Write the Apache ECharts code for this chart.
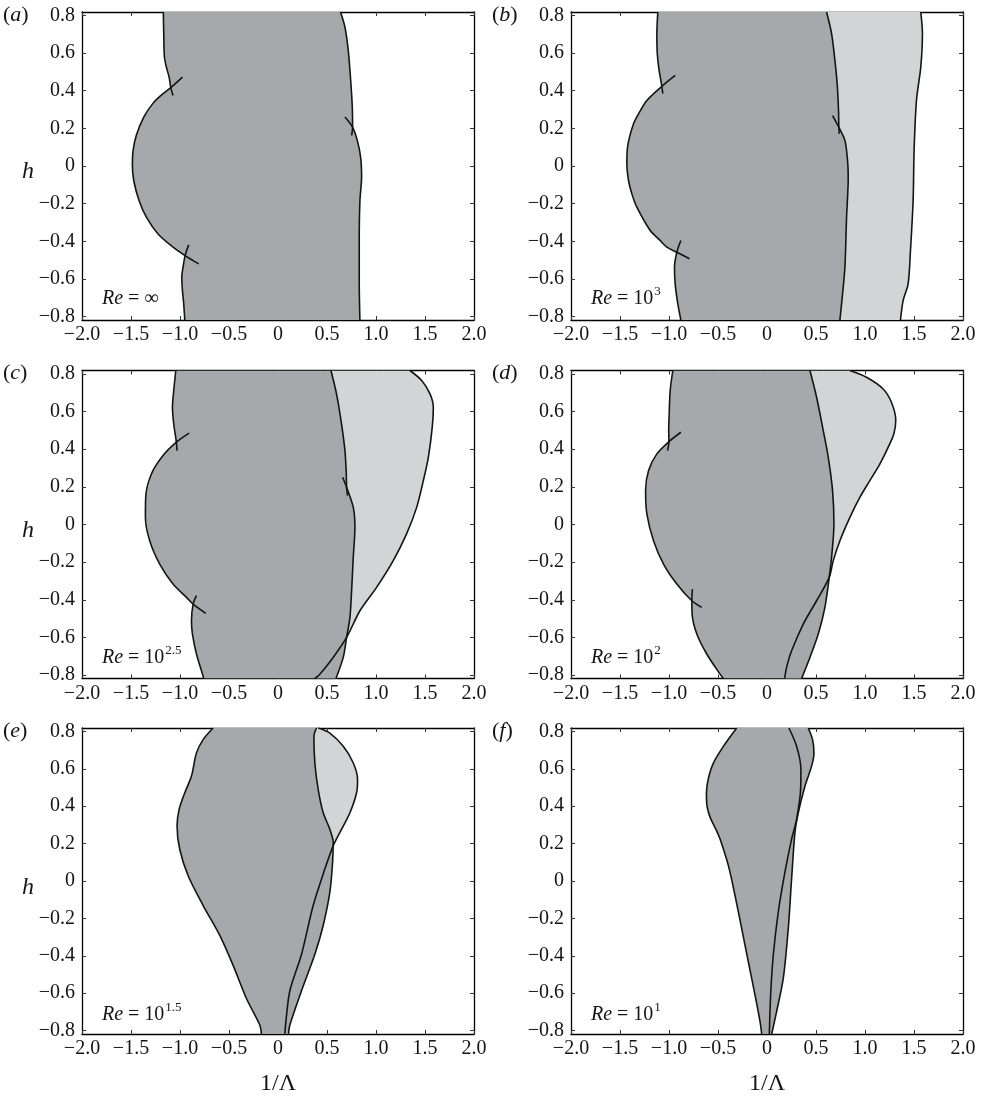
<!DOCTYPE html>
<html>
<head>
<meta charset="utf-8">
<script src="https://cdn.jsdelivr.net/npm/echarts@6/dist/echarts.min.js"></script>
<style>
  html, body { margin: 0; padding: 0; background: #fff; }
  #chart { width: 983px; height: 1097px; }
</style>
</head>
<body>
<div id="chart"></div>
<script>
// ---- axes ----
const xTicks = [-2, -1.5, -1, -0.5, 0, 0.5, 1, 1.5, 2];
const hTicks = [-0.8, -0.6, -0.4, -0.2, 0, 0.2, 0.4, 0.6, 0.8];
const hRange = [-0.818, 0.818];
const panelLetters = ['a', 'b', 'c', 'd', 'e', 'f'];
const reBase = ['\u221E', '10', '10', '10', '10', '10'];
const reExponent = ['', '3', '2.5', '2', '1.5', '1'];

// ---- (a) Re = infinity ----
const A1 = [-1.094, 0.416], A2 = [-0.948, -0.476], A3 = [0.761, 0.206];
const aUpperLeft = [[-1.170, 0.818], [-1.166, 0.700], [-1.159, 0.580], [-1.139, 0.525], [-1.111, 0.472], A1, [-1.071, 0.375]];
const aArc = [[-0.975, 0.472], A1, [-1.200, 0.372], [-1.280, 0.330], [-1.370, 0.260], [-1.445, 0.165], [-1.479, 0.082], [-1.486, 0.012],
  [-1.472, -0.077], [-1.418, -0.183], [-1.343, -0.272], [-1.224, -0.361], [-1.071, -0.431], A2, [-0.809, -0.520]];
const aLowerLeft = [[-0.911, -0.419], A2, [-0.969, -0.538], [-0.982, -0.591], [-0.975, -0.662], [-0.962, -0.733], [-0.951, -0.818]];
const aUpperRight = [[0.638, 0.818], [0.683, 0.738], [0.717, 0.614], [0.744, 0.437], [0.758, 0.313], A3, [0.751, 0.162]];
const aLowerRight = [[0.683, 0.260], A3, [0.809, 0.136], [0.843, 0.047], [0.853, -0.059], [0.836, -0.183], [0.829, -0.361], [0.829, -0.626], [0.836, -0.818]];

// ---- (b) Re = 10^3 ----
const B1 = [-1.073, 0.423], B2 = [-0.920, -0.458], B3 = [0.733, 0.206];
const bUpperLeft = [[-1.114, 0.818], [-1.124, 0.700], [-1.120, 0.600], [-1.104, 0.520], B1, [-1.063, 0.384]];
const bArc = [[-0.937, 0.481], B1, [-1.226, 0.348], [-1.301, 0.286], [-1.362, 0.224], [-1.423, 0.100], [-1.430, 0.012], [-1.413, -0.077],
  [-1.379, -0.148], [-1.328, -0.219], [-1.192, -0.343], [-1.107, -0.387], [-1.022, -0.431], B2, [-0.791, -0.493]];
const bLowerLeft = [[-0.879, -0.396], B2, [-0.944, -0.538], [-0.937, -0.626], [-0.910, -0.733], [-0.879, -0.818]];
const bUpperRight = [[0.608, 0.818], [0.659, 0.703], [0.693, 0.561], [0.716, 0.437], [0.730, 0.295], B3, [0.737, 0.171]];
const bLowerRight = [[0.669, 0.268], B3, [0.795, 0.136], [0.822, 0.029], [0.829, -0.059], [0.812, -0.272], [0.795, -0.538], [0.771, -0.679], [0.744, -0.818]];
const bOuter = [[1.569, 0.818], [1.586, 0.703], [1.569, 0.525], [1.525, 0.348], [1.501, 0.082], [1.491, -0.183], [1.464, -0.449], [1.440, -0.626], [1.389, -0.715], [1.362, -0.818]];

// ---- (c) Re = 10^2.5 ----
const C1 = [-1.037, 0.437], C2 = [-0.866, -0.423], C3 = [0.700, 0.198];
const cUpperLeft = [[-1.043, 0.818], [-1.064, 0.711], [-1.077, 0.623], [-1.064, 0.534], C1, [-1.030, 0.392]];
const cArc = [[-0.907, 0.485], C1, [-1.173, 0.366], [-1.292, 0.268], [-1.350, 0.144], [-1.353, 0.038], [-1.309, -0.086], [-1.207, -0.210],
  [-1.071, -0.316], [-0.934, -0.387], C2, [-0.737, -0.472]];
const cLowerLeft = [[-0.832, -0.378], C2, [-0.883, -0.511], [-0.873, -0.582], [-0.832, -0.688], [-0.781, -0.777], [-0.757, -0.818]];
const cUpperRight = [[0.540, 0.818], [0.597, 0.694], [0.648, 0.534], [0.683, 0.392], [0.697, 0.270], C3, [0.710, 0.153]];
const cLowerRight = [[0.659, 0.251], C3, [0.768, 0.091], [0.785, -0.015], [0.768, -0.174], [0.751, -0.352], [0.734, -0.493], [0.700, -0.600], [0.666, -0.706], [0.591, -0.818]];
const cOuter = [[1.346, 0.818], [1.466, 0.765], [1.551, 0.694], [1.585, 0.623], [1.574, 0.517], [1.534, 0.357], [1.483, 0.233], [1.415, 0.091],
  [1.312, -0.050], [1.176, -0.192], [1.006, -0.334], [0.836, -0.458], [0.700, -0.600], [0.563, -0.706], [0.427, -0.795], [0.376, -0.818]];

// ---- (d) Re = 10^2 ----
const D1 = [-1.001, 0.440], D2 = [-0.767, -0.405];
const dUpperLeft = [[-0.961, 0.818], [-0.988, 0.711], [-0.998, 0.587], [-1.003, 0.500], D1, [-1.015, 0.392]];
const dArc = [[-0.879, 0.490], D1, [-1.124, 0.375], [-1.209, 0.286], [-1.239, 0.180], [-1.226, 0.056], [-1.158, -0.086], [-1.056, -0.210], [-0.920, -0.316], D2, [-0.666, -0.440]];
const dLowerLeft = [[-0.761, -0.343], D2, [-0.764, -0.476], [-0.716, -0.582], [-0.615, -0.688], [-0.479, -0.795], [-0.445, -0.818]];
const dRight = [[0.438, 0.818], [0.506, 0.676], [0.574, 0.499], [0.625, 0.357], [0.669, 0.180], [0.683, 0.003], [0.659, -0.174], [0.635, -0.281],
  [0.591, -0.440], [0.523, -0.582], [0.438, -0.706], [0.353, -0.818]];
const dOuter = [[0.846, 0.818], [1.015, 0.782], [1.185, 0.720], [1.270, 0.649], [1.314, 0.552], [1.294, 0.481], [1.236, 0.410], [1.151, 0.321],
  [1.049, 0.233], [0.947, 0.144], [0.846, 0.038], [0.744, -0.086], [0.676, -0.192], [0.635, -0.281], [0.506, -0.405], [0.370, -0.529],
  [0.251, -0.671], [0.200, -0.759], [0.180, -0.818]];

// ---- (e) Re = 10^1.5 ----
const eLeft = [[-0.662, 0.818], [-0.764, 0.756], [-0.832, 0.685], [-0.883, 0.561], [-0.951, 0.472], [-1.009, 0.383], [-1.030, 0.294], [-1.003, 0.170],
  [-0.917, 0.028], [-0.764, -0.131], [-0.594, -0.291], [-0.458, -0.451], [-0.322, -0.628], [-0.186, -0.770], [-0.169, -0.818]];
const eRight = [[0.393, 0.818], [0.366, 0.773], [0.376, 0.631], [0.410, 0.490], [0.461, 0.365], [0.529, 0.277], [0.563, 0.206], [0.557, 0.099],
  [0.529, -0.060], [0.461, -0.238], [0.376, -0.392], [0.240, -0.587], [0.121, -0.770], [0.107, -0.818]];
const eOuter = [[0.410, 0.818], [0.529, 0.791], [0.666, 0.720], [0.768, 0.631], [0.812, 0.543], [0.802, 0.472], [0.734, 0.365], [0.649, 0.277],
  [0.563, 0.188], [0.478, 0.064], [0.359, -0.131], [0.240, -0.392], [0.121, -0.587], [0.078, -0.765], [0.070, -0.818]];

// ---- (f) Re = 10^1 ----
const fLeft = [[-0.309, 0.818], [-0.445, 0.720], [-0.547, 0.631], [-0.600, 0.545], [-0.618, 0.470], [-0.612, 0.400], [-0.580, 0.340], [-0.520, 0.275],
  [-0.479, 0.224], [-0.394, 0.082], [-0.326, -0.078], [-0.258, -0.255], [-0.190, -0.433], [-0.122, -0.610], [-0.071, -0.752], [-0.054, -0.818]];
const fRight = [[0.224, 0.818], [0.302, 0.720], [0.346, 0.596], [0.343, 0.490], [0.302, 0.330], [0.251, 0.224], [0.183, 0.047], [0.115, -0.166],
  [0.064, -0.397], [0.037, -0.610], [0.024, -0.818]];
const fOuter = [[0.421, 0.818], [0.465, 0.756], [0.479, 0.685], [0.455, 0.614], [0.387, 0.507], [0.319, 0.365], [0.285, 0.259], [0.251, 0.011],
  [0.217, -0.255], [0.166, -0.521], [0.098, -0.698], [0.048, -0.818]];

// ---- styling ----
const SERIF = '"Liberation Serif", "Times New Roman", Times, serif';
const DARK = '#a7a8ac';
const LIGHT = '#d3d4d6';
const INK = '#141414';

// piece of a curve between two of its own points (inclusive)
function piece(curve, from, to) {
  const i0 = from ? curve.indexOf(from) : 0;
  const i1 = to ? curve.indexOf(to) : curve.length - 1;
  return curve.slice(i0, i1 + 1);
}
// closed region: left chain top->bottom, right chain top->bottom
function region(leftChain, rightChain) {
  return leftChain.concat(rightChain.slice().reverse());
}

const aLeftChain = [...piece(aUpperLeft, null, A1), ...piece(aArc, A1, A2).slice(1), ...piece(aLowerLeft, A2, null).slice(1)];
const aRightChain = [...piece(aUpperRight, null, A3), ...piece(aLowerRight, A3, null).slice(1)];
const bLeftChain = [...piece(bUpperLeft, null, B1), ...piece(bArc, B1, B2).slice(1), ...piece(bLowerLeft, B2, null).slice(1)];
const bRightChain = [...piece(bUpperRight, null, B3), ...piece(bLowerRight, B3, null).slice(1)];
const cLeftChain = [...piece(cUpperLeft, null, C1), ...piece(cArc, C1, C2).slice(1), ...piece(cLowerLeft, C2, null).slice(1)];
const cRightChain = [...piece(cUpperRight, null, C3), ...piece(cLowerRight, C3, null).slice(1)];
const dLeftChain = [...piece(dUpperLeft, null, D1), ...piece(dArc, D1, D2).slice(1), ...piece(dLowerLeft, D2, null).slice(1)];

const panels = [
  { fills: [[region(aLeftChain, aRightChain), DARK]],
    curves: [aUpperLeft, aArc, aLowerLeft, aUpperRight, aLowerRight] },
  { fills: [[region(bRightChain, bOuter), LIGHT], [region(bLeftChain, bRightChain), DARK]],
    curves: [bUpperLeft, bArc, bLowerLeft, bUpperRight, bLowerRight, bOuter] },
  { fills: [[region(cRightChain, cOuter), LIGHT], [region(cLeftChain, cRightChain), DARK]],
    curves: [cUpperLeft, cArc, cLowerLeft, cUpperRight, cLowerRight, cOuter] },
  { fills: [[region(dRight, dOuter), LIGHT], [region(dLeftChain, dRight), DARK]],
    curves: [dUpperLeft, dArc, dLowerLeft, dRight, dOuter] },
  { fills: [[region(eRight, eOuter), LIGHT], [region(eLeft, eRight), DARK]],
    curves: [eLeft, eRight, eOuter] },
  { fills: [[region(fRight, fOuter), DARK], [region(fLeft, fRight), DARK]],
    curves: [fLeft, fRight, fOuter] }
];

// ---- layout ----
const colLeft = [82, 571];
const rowTop = [12, 370.5, 728];
const plotW = 392, plotH = 308;

const fmt = v => (Math.abs(v) < 1e-9 ? '0' : v.toFixed(1).replace('-', '\u2212'));

const grids = [], xAxes = [], yAxes = [], series = [], graphics = [];

panels.forEach((p, i) => {
  const col = i % 2, row = Math.floor(i / 2);
  const left = colLeft[col], top = rowTop[row];
  grids.push({ left, top, width: plotW, height: plotH, containLabel: false });

  const lineStyle = { color: '#000', width: 1.3 };
  const tickStyle = { color: '#333', width: 1 };
  const labelStyle = { color: INK, fontFamily: SERIF, fontSize: 20 };

  ['bottom', 'top'].forEach(pos => {
    const main = pos === 'bottom';
    xAxes.push({
      type: 'value', gridIndex: i, position: pos, min: -2, max: 2, interval: 0.5,
      axisLine: { show: true, onZero: false, lineStyle },
      axisTick: { show: true, inside: true, length: 4, lineStyle: tickStyle },
      axisLabel: Object.assign({ show: main, margin: 5, formatter: fmt }, labelStyle),
      splitLine: { show: false },
      name: main && row === 2 ? '1/\u039B' : '',
      nameLocation: 'middle', nameGap: 38,
      nameTextStyle: { color: INK, fontFamily: SERIF, fontSize: 24 }
    });
  });
  ['left', 'right'].forEach(pos => {
    const main = pos === 'left';
    yAxes.push({
      type: 'value', gridIndex: i, position: pos, min: hRange[0], max: hRange[1],
      axisLine: { show: true, onZero: false, lineStyle },
      axisTick: { show: true, inside: true, length: 4, lineStyle: tickStyle, customValues: hTicks },
      axisLabel: Object.assign({ show: main, margin: 7, formatter: fmt, customValues: hTicks }, labelStyle),
      splitLine: { show: false }
    });
  });

  p.fills.forEach(([pts, color]) => {
    series.push({
      type: 'custom', xAxisIndex: 2 * i, yAxisIndex: 2 * i, data: pts, encode: { x: 0, y: 1 },
      clip: true, silent: true, z: 1, animation: false,
      renderItem: (params, api) => {
        if (params.dataIndex !== 0) return null;
        return { type: 'polygon', shape: { points: pts.map(q => api.coord(q)) }, style: { fill: color, stroke: null } };
      }
    });
  });
  p.curves.forEach(pts => {
    series.push({
      type: 'line', xAxisIndex: 2 * i, yAxisIndex: 2 * i, data: pts, symbol: 'none', smooth: 0.3,
      lineStyle: { color: INK, width: 1.6 }, silent: true, z: 3, animation: false, clip: true
    });
  });

  // panel letter
  graphics.push({
    type: 'text', x: col === 0 ? 3 : 492, y: top + 3, silent: true,
    style: {
      text: '({it|' + panelLetters[i] + '})', fill: INK, verticalAlign: 'middle',
      fontFamily: SERIF, fontSize: 22,
      rich: { it: { fontFamily: SERIF, fontSize: 22, fontStyle: 'italic', fill: INK } }
    }
  });
  // axis title for h, left column only
  if (col === 0) {
    graphics.push({
      type: 'text', x: 28, y: top + 160, silent: true,
      style: { text: 'h', fill: INK, align: 'center', verticalAlign: 'middle', fontFamily: SERIF, fontSize: 24, fontStyle: 'italic' }
    });
  }
  // Reynolds number tag
  const tag = reExponent[i] ? '{it|Re} = ' + reBase[i] + '{sup|' + reExponent[i] + '}' : '{it|Re} = ' + reBase[i];
  graphics.push({
    type: 'text', x: left + 20, y: top + plotH - 21, silent: true,
    style: {
      text: tag, fill: INK, verticalAlign: 'middle', fontFamily: SERIF, fontSize: 20,
      rich: {
        it: { fontFamily: SERIF, fontSize: 20, fontStyle: 'italic', fill: INK },
        sup: { fontFamily: SERIF, fontSize: 13, fill: INK, padding: [0, 0, 14, 1] }
      }
    }
  });
});

const chart = echarts.init(document.getElementById('chart'), null, { renderer: 'canvas' });
chart.setOption({
  backgroundColor: '#fff',
  animation: false,
  grid: grids,
  xAxis: xAxes,
  yAxis: yAxes,
  series,
  graphic: graphics
});
</script>
</body>
</html>
